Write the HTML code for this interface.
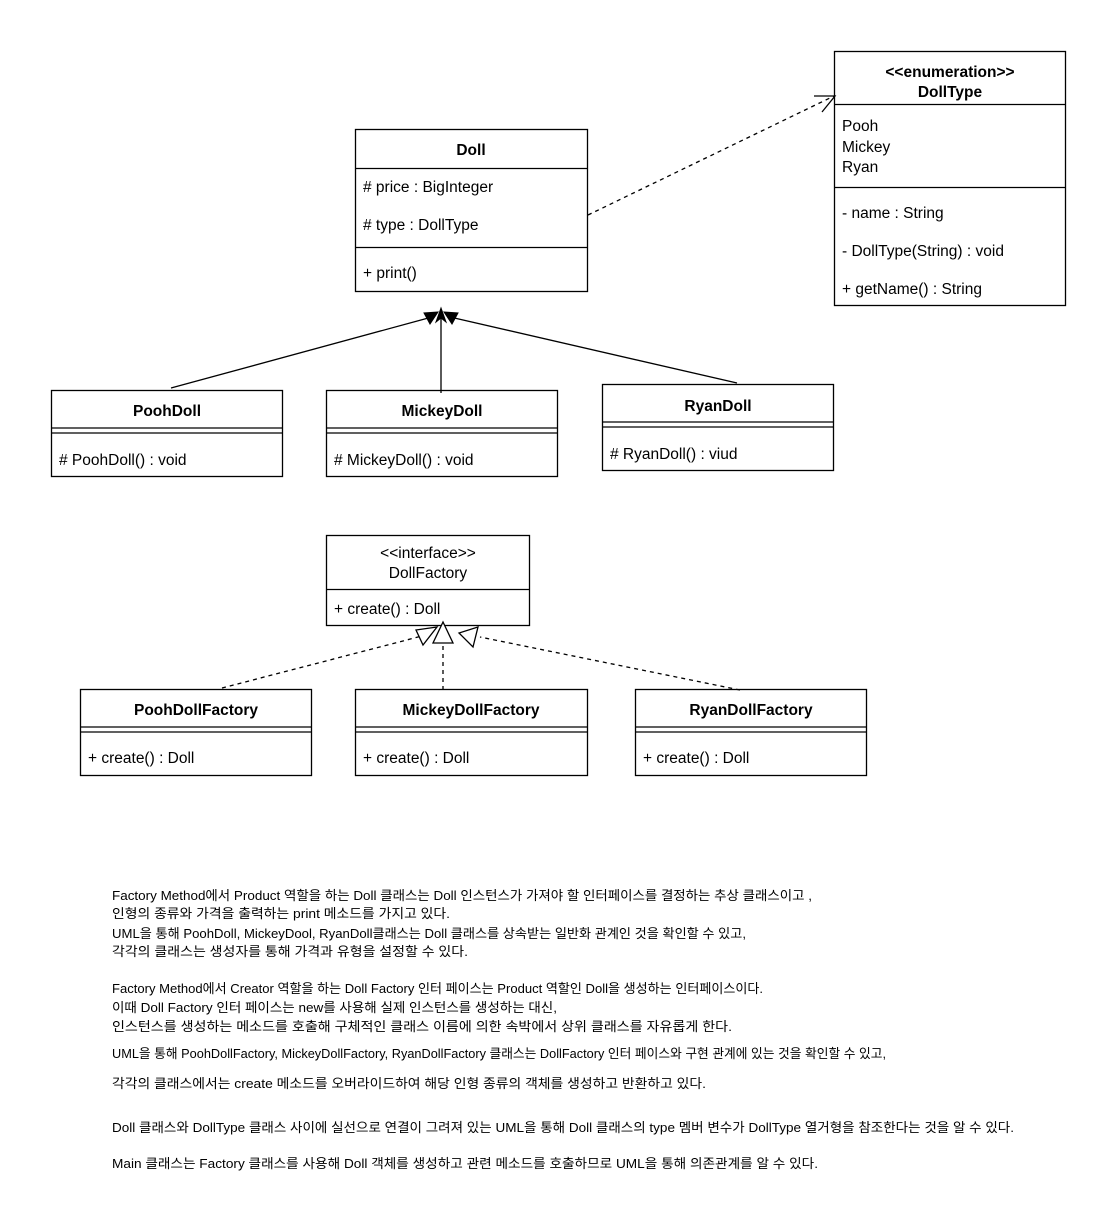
<!DOCTYPE html>
<html><head><meta charset="utf-8"><style>
html,body{margin:0;padding:0;background:#fff;}
svg{display:block;}
text{font-family:"Liberation Sans","Noto Sans CJK KR",sans-serif;fill:#000;}
.t{font-size:15.5px;}
.b{font-size:15.5px;font-weight:bold;}
.k{font-size:13px;font-family:"Liberation Sans","Noto Sans CJK KR",sans-serif;}
</style></head><body>
<svg width="1116" height="1223" viewBox="0 0 1116 1223" xmlns="http://www.w3.org/2000/svg">
<g fill="#fff" stroke="#000" stroke-width="1.3">
<!-- Doll -->
<rect x="355.5" y="129.5" width="232" height="162"/>
<line x1="355.5" y1="168.5" x2="587.5" y2="168.5"/>
<line x1="355.5" y1="247.5" x2="587.5" y2="247.5"/>
<!-- DollType -->
<rect x="834.5" y="51.5" width="231" height="254"/>
<line x1="834.5" y1="104.5" x2="1065.5" y2="104.5"/>
<line x1="834.5" y1="187.5" x2="1065.5" y2="187.5"/>
<!-- PoohDoll -->
<rect x="51.5" y="390.5" width="231" height="86"/>
<line x1="51.5" y1="428" x2="282.5" y2="428"/><line x1="51.5" y1="433" x2="282.5" y2="433"/>
<rect x="326.5" y="390.5" width="231" height="86"/>
<line x1="326.5" y1="428" x2="557.5" y2="428"/><line x1="326.5" y1="433" x2="557.5" y2="433"/>
<rect x="602.5" y="384.5" width="231" height="86"/>
<line x1="602.5" y1="422" x2="833.5" y2="422"/><line x1="602.5" y1="427" x2="833.5" y2="427"/>
<!-- DollFactory -->
<rect x="326.5" y="535.5" width="203" height="90"/>
<line x1="326.5" y1="589.5" x2="529.5" y2="589.5"/>
<!-- factories -->
<rect x="80.5" y="689.5" width="231" height="86"/>
<line x1="80.5" y1="727" x2="311.5" y2="727"/><line x1="80.5" y1="732" x2="311.5" y2="732"/>
<rect x="355.5" y="689.5" width="232" height="86"/>
<line x1="355.5" y1="727" x2="587.5" y2="727"/><line x1="355.5" y1="732" x2="587.5" y2="732"/>
<rect x="635.5" y="689.5" width="231" height="86"/>
<line x1="635.5" y1="727" x2="866.5" y2="727"/><line x1="635.5" y1="732" x2="866.5" y2="732"/>
</g>
<!-- connectors -->
<g stroke="#000" stroke-width="1.3" fill="none">
<line x1="171" y1="388" x2="432" y2="317"/>
<line x1="441" y1="393" x2="441" y2="318"/>
<line x1="737" y1="383" x2="450" y2="317"/>
<line x1="588" y1="215" x2="834" y2="96" stroke-dasharray="4,4"/>
<polyline points="814,96 835,96 822,112"/>
<line x1="222" y1="688" x2="422" y2="636" stroke-dasharray="4,4"/>
<line x1="443" y1="690" x2="443" y2="644" stroke-dasharray="4,4"/>
<line x1="740" y1="690" x2="480" y2="637" stroke-dasharray="4,4"/>
</g>
<g fill="#000" stroke="#000" stroke-width="1">
<polygon points="441,308 436,322 441,318 446,322"/>
<polygon points="438,312 424,313 430,324"/>
<polygon points="444,312 458,313 452,324"/>
</g>
<g fill="#fff" stroke="#000" stroke-width="1.3">
<polygon points="443,622 433,643 453,643"/>
<polygon points="437,627 416,630 423,645"/>
<polygon points="478,627 459,633 473,647"/>
</g>
<!-- labels -->
<text class="b" x="471" y="155" text-anchor="middle">Doll</text>
<text class="t" x="363" y="192">#  price : BigInteger</text>
<text class="t" x="363" y="230">#  type : DollType</text>
<text class="t" x="363" y="278">+ print()</text>
<text class="b" x="950" y="77" text-anchor="middle">&lt;&lt;enumeration&gt;&gt;</text>
<text class="b" x="950" y="97" text-anchor="middle">DollType</text>
<text class="t" x="842" y="131">Pooh</text>
<text class="t" x="842" y="152">Mickey</text>
<text class="t" x="842" y="172">Ryan</text>
<text class="t" x="842" y="218">- name : String</text>
<text class="t" x="842" y="256">- DollType(String) : void</text>
<text class="t" x="842" y="294">+ getName() : String</text>
<text class="b" x="167" y="416" text-anchor="middle">PoohDoll</text>
<text class="t" x="59" y="465"># PoohDoll() : void</text>
<text class="b" x="442" y="416" text-anchor="middle">MickeyDoll</text>
<text class="t" x="334" y="465"># MickeyDoll() : void</text>
<text class="b" x="718" y="411" text-anchor="middle">RyanDoll</text>
<text class="t" x="610" y="459"># RyanDoll() : viud</text>
<text class="t" x="428" y="558" text-anchor="middle">&lt;&lt;interface&gt;&gt;</text>
<text class="t" x="428" y="578" text-anchor="middle">DollFactory</text>
<text class="t" x="334" y="614">+ create() : Doll</text>
<text class="b" x="196" y="715" text-anchor="middle">PoohDollFactory</text>
<text class="t" x="88" y="763">+ create() : Doll</text>
<text class="b" x="471" y="715" text-anchor="middle">MickeyDollFactory</text>
<text class="t" x="363" y="763">+ create() : Doll</text>
<text class="b" x="751" y="715" text-anchor="middle">RyanDollFactory</text>
<text class="t" x="643" y="763">+ create() : Doll</text>
<!-- description -->
<g class="k">
<text class="k" x="112" y="900" textLength="700" lengthAdjust="spacingAndGlyphs">Factory Method에서 Product 역할을 하는 Doll 클래스는 Doll 인스턴스가 가져야 할 인터페이스를 결정하는 추상 클래스이고 ,</text>
<text class="k" x="112" y="918" textLength="338" lengthAdjust="spacingAndGlyphs">인형의 종류와 가격을 출력하는 print 메소드를 가지고 있다.</text>
<text class="k" x="112" y="938" textLength="634" lengthAdjust="spacingAndGlyphs">UML을 통해 PoohDoll, MickeyDool, RyanDoll클래스는 Doll 클래스를 상속받는 일반화 관계인 것을 확인할 수 있고,</text>
<text class="k" x="112" y="956" textLength="356" lengthAdjust="spacingAndGlyphs">각각의 클래스는 생성자를 통해 가격과 유형을 설정할 수 있다.</text>
<text class="k" x="112" y="993" textLength="651" lengthAdjust="spacingAndGlyphs">Factory Method에서 Creator 역할을 하는 Doll Factory 인터 페이스는 Product 역할인 Doll을 생성하는 인터페이스이다.</text>
<text class="k" x="112" y="1012" textLength="445" lengthAdjust="spacingAndGlyphs">이때 Doll Factory 인터 페이스는 new를 사용해 실제 인스턴스를 생성하는 대신,</text>
<text class="k" x="112" y="1031" textLength="620" lengthAdjust="spacingAndGlyphs">인스턴스를 생성하는 메소드를 호출해 구체적인 클래스 이름에 의한 속박에서 상위 클래스를 자유롭게 한다.</text>
<text class="k" x="112" y="1058" textLength="774" lengthAdjust="spacingAndGlyphs">UML을 통해 PoohDollFactory, MickeyDollFactory, RyanDollFactory 클래스는 DollFactory 인터 페이스와 구현 관계에 있는 것을 확인할 수 있고,</text>
<text class="k" x="112" y="1088" textLength="594" lengthAdjust="spacingAndGlyphs">각각의 클래스에서는 create 메소드를 오버라이드하여 해당 인형 종류의 객체를 생성하고 반환하고 있다.</text>
<text class="k" x="112" y="1132" textLength="902" lengthAdjust="spacingAndGlyphs">Doll 클래스와 DollType 클래스 사이에 실선으로 연결이 그려져 있는 UML을 통해 Doll 클래스의 type 멤버 변수가 DollType 열거형을 참조한다는 것을 알 수 있다.</text>
<text class="k" x="112" y="1168" textLength="706" lengthAdjust="spacingAndGlyphs">Main 클래스는 Factory 클래스를 사용해 Doll 객체를 생성하고 관련 메소드를 호출하므로 UML을 통해 의존관계를 알 수 있다.</text>
</g>
</svg>
</body></html>
